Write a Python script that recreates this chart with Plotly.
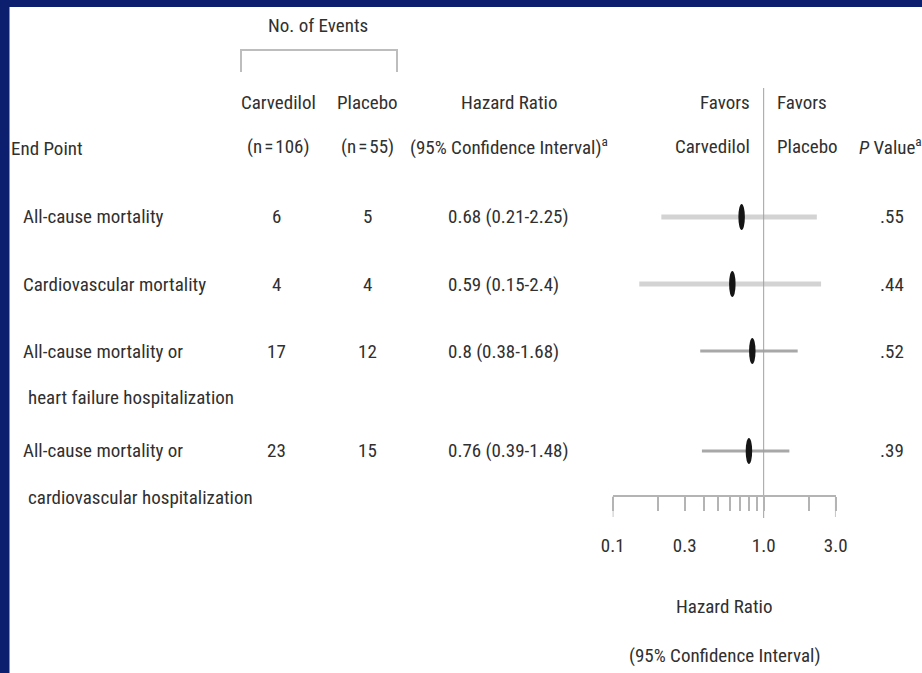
import math
import plotly.graph_objects as go

W, H = 922, 673

# ---- table data -------------------------------------------------------------
endpoint_lines = [
    ["All-cause mortality"],
    ["Cardiovascular mortality"],
    ["All-cause mortality or", "heart failure hospitalization"],
    ["All-cause mortality or", "cardiovascular hospitalization"],
]
events_carvedilol = [6, 4, 17, 23]
events_placebo = [5, 4, 12, 15]
hazard_ratio = [0.68, 0.59, 0.8, 0.76]
ci_low = [0.21, 0.15, 0.38, 0.39]
ci_high = [2.25, 2.4, 1.68, 1.48]
p_values = [0.55, 0.44, 0.52, 0.39]

axis_major_ticks = [0.1, 0.3, 1.0, 3.0]
axis_minor_ticks = [0.2, 0.4, 0.5, 0.6, 0.7, 0.8, 0.9, 2.0]

# ---- styling ----------------------------------------------------------------
FONT = "Roboto Condensed, Liberation Sans Narrow, Arial Narrow, sans-serif"
TEXT = "#303030"
FS = 19
NAVY = "#0c1f6e"
AXIS_GREY = "#b4b4b4"
ci_colors = ["#d3d3d3", "#d3d3d3", "#a8a8a8", "#a8a8a8"]
ci_widths = [5, 5, 3, 3]

# pixel -> paper helpers (margins are zero, so paper == page)
def px(x):
    return x / W

def py(y):
    return 1 - y / H

# vertical placement of the rows (in page pixels, y down)
FIRST_ROW = 217
LINE_GAP = 46
row_y = []
y = FIRST_ROW
for lines in endpoint_lines:
    row_y.append(y)
    y += 67 + 33 * (len(lines) - 1)

# column anchors
X_LABEL = 21
X_CARV = 276
X_PLAC = 367
X_HR_HEAD = 509
X_HR = 446
X_P = 892
AXIS_LEFT, AXIS_RIGHT = 612.7, 835.7
AXIS_Y = 496

fig = go.Figure()

# confidence intervals
for i in range(len(hazard_ratio)):
    fig.add_trace(go.Scatter(
        x=[ci_low[i], ci_high[i]], y=[row_y[i], row_y[i]],
        mode="lines", line=dict(color=ci_colors[i], width=ci_widths[i]),
        hoverinfo="skip", showlegend=False,
    ))

# reference line at HR = 1 and the long end ticks of the scale
fig.add_trace(go.Scatter(
    x=[1.0, 1.0], y=[88, 518], mode="lines",
    line=dict(color="#a0a0a0", width=1), hoverinfo="skip", showlegend=False,
))
for v in (axis_major_ticks[0], axis_major_ticks[-1]):
    fig.add_trace(go.Scatter(
        x=[v, v], y=[AXIS_Y, 517], mode="lines",
        line=dict(color=AXIS_GREY, width=1.5), hoverinfo="skip", showlegend=False,
    ))

shapes = [
    # white page over the navy frame
    dict(type="rect", xref="paper", yref="paper", x0=px(9.5), x1=1, y0=0, y1=py(7),
         fillcolor="white", line=dict(width=0), layer="below"),
    # "No. of Events" bracket
    dict(type="path", xref="paper", yref="paper",
         path=f"M {px(241)} {py(72)} L {px(241)} {py(50)} L {px(397)} {py(50)} L {px(397)} {py(72)}",
         line=dict(color="#bdbdbd", width=2)),
]

# point estimates as upright ellipses
for i, hr in enumerate(hazard_ratio):
    shapes.append(dict(
        type="circle", xref="x", yref="y",
        xsizemode="pixel", ysizemode="pixel",
        xanchor=hr, yanchor=row_y[i],
        x0=-6.5, x1=6.5, y0=-13, y1=13,
        fillcolor="#151515", line=dict(width=0),
    ))

ann = []

def text(x, y, s, anchor="center"):
    ann.append(dict(
        x=px(x), y=py(y), xref="paper", yref="paper", text=s,
        showarrow=False, xanchor=anchor, yanchor="middle",
        font=dict(family=FONT, size=FS, color=TEXT),
    ))

# header
text(318, 26, "No. of Events")
text(9, 148, "End Point", "left")
text(X_CARV + 2, 102, "Carvedilol")
text(X_CARV + 2, 146, "(n\u200a=\u200a106)")
text(X_PLAC, 102, "Placebo")
text(X_PLAC, 146, "(n\u200a=\u200a55)")
text(X_HR_HEAD, 102, "Hazard Ratio")
text(X_HR_HEAD, 146, "(95% Confidence Interval)<sup>a</sup>")
text(752, 102, "Favors", "right")
text(752, 146, "Carvedilol", "right")
text(775, 102, "Favors", "left")
text(775, 146, "Placebo", "left")
text(857, 146, "<i>P</i> Value<sup>a</sup>", "left")

# body rows
for i, lines in enumerate(endpoint_lines):
    for k, line in enumerate(lines):
        text(X_LABEL + (5 if k else 0), row_y[i] + k * LINE_GAP, line, "left")
    text(X_CARV, row_y[i], str(events_carvedilol[i]))
    text(X_PLAC, row_y[i], str(events_placebo[i]))
    text(X_HR, row_y[i], f"{hazard_ratio[i]:g} ({ci_low[i]:g}-{ci_high[i]:g})", "left")
    text(X_P, row_y[i], f"{p_values[i]:.2f}".lstrip("0"))

# axis title
mid = (AXIS_LEFT + AXIS_RIGHT) / 2
text(mid, 606, "Hazard Ratio")
text(mid, 655, "(95% Confidence Interval)")

fig.update_layout(
    width=W, height=H, autosize=False,
    margin=dict(l=0, r=0, t=0, b=0, pad=0),
    paper_bgcolor=NAVY, plot_bgcolor="rgba(0,0,0,0)",
    shapes=shapes, annotations=ann, showlegend=False,
    xaxis=dict(
        type="log", domain=[px(AXIS_LEFT), px(AXIS_RIGHT)],
        range=[math.log10(axis_major_ticks[0]), math.log10(axis_major_ticks[-1])],
        anchor="free", position=py(AXIS_Y), automargin=False,
        showline=True, linecolor=AXIS_GREY, linewidth=2,
        ticks="outside", ticklen=14, tickwidth=1.5, tickcolor=AXIS_GREY,
        tickvals=axis_major_ticks,
        ticktext=[f"{v:.1f}" for v in axis_major_ticks],
        minor=dict(tickvals=axis_minor_ticks, ticks="outside", ticklen=14,
                   tickwidth=1.5, tickcolor=AXIS_GREY, showgrid=False),
        tickfont=dict(family=FONT, size=FS, color=TEXT),
        ticklabelstandoff=18,
        showgrid=False, zeroline=False, fixedrange=True,
    ),
    yaxis=dict(domain=[0, 1], range=[H, 0], visible=False, fixedrange=True,
               automargin=False),
)

fig.write_html("out.html")
